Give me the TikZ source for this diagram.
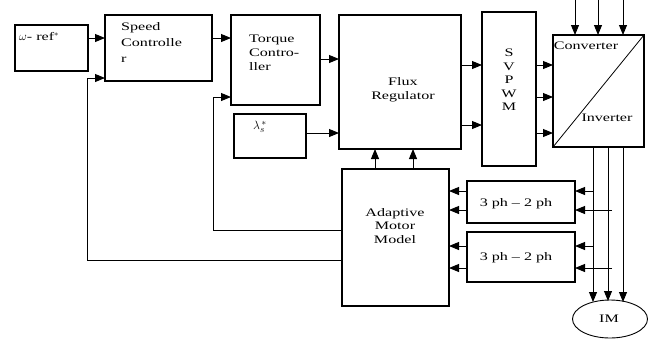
\documentclass[tikz,border=0pt]{standalone}
\usepackage{fontspec}
\setmainfont{Liberation Serif}[FakeStretch=1.4]
\usetikzlibrary{arrows.meta,shapes.geometric}
\begin{document}
\begin{tikzpicture}[x=1pt,y=-1pt,
  box/.style={draw,line width=1.4pt,inner sep=0pt,outer sep=0pt,anchor=north west},
  lbl/.style={inner sep=0pt,font=\fontsize{11.5}{14}\selectfont},
  arr/.style={line width=0.9pt,-{Triangle[length=10pt,width=8pt]}},
  ln/.style={line width=0.9pt}]
\useasboundingbox (0,0) rectangle (651,341);
% boxes
\node[box,minimum width=73pt,minimum height=46pt] (wref) at (15,25) {};
\node[box,minimum width=107pt,minimum height=66pt] (speed) at (105,15) {};
\node[box,minimum width=89pt,minimum height=90pt] (torque) at (231,15) {};
\node[box,minimum width=72pt,minimum height=44pt] (lam) at (234,114) {};
\node[box,minimum width=122pt,minimum height=134pt] (flux) at (339,15) {};
\node[box,minimum width=54pt,minimum height=154pt] (svpwm) at (482,12) {};
\node[box,minimum width=91pt,minimum height=112pt] (conv) at (553,35) {};
\node[box,minimum width=107pt,minimum height=137pt] (amm) at (342,169) {};
\node[box,minimum width=108pt,minimum height=42pt] (ptA) at (467,181) {};
\node[box,minimum width=108pt,minimum height=50pt] (ptB) at (467,232) {};
\node[draw,ellipse,line width=0.9pt,minimum width=75pt,minimum height=38pt,inner sep=0pt] (im) at (610,319) {};
\draw[line width=0.8pt] (conv.south west) -- (conv.north east);
% labels
\node[lbl,anchor=west] (twref) at (19,37) {$\omega$- ref$^*$};
\node[lbl,anchor=north west,align=left,font=\fontsize{11.5}{16}\selectfont] (tspeed) at (121,22) {Speed\\Controlle\\r};
\node[lbl,anchor=north west,align=left] (ttorque) at (249,35) {Torque\\Contro-\\ller};
\node[lbl,anchor=west,font=\fontsize{13}{14}\selectfont] (tlam) at (253,127) {$\lambda_{s}^{\,*}$};
\node[lbl,align=center] (tflux) at (403,90) {Flux\\Regulator};
\node[lbl,align=center,font=\fontsize{11.5}{13.5}\selectfont] (tsv) at (509,80) {S\\V\\P\\W\\M};
\node[lbl] (tconv) at (586,46) {Converter};
\node[lbl] (tinv) at (607,118) {Inverter};
\node[lbl,align=center,font=\fontsize{11.5}{13.5}\selectfont] (tamm) at (395,226) {Adaptive\\Motor\\Model};
\node[lbl] (tptA) at (516,204) {3 ph -- 2 ph};
\node[lbl] (tptB) at (516,258) {3 ph -- 2 ph};
\node[lbl] (tim) at (609,319) {IM};
% coordinates
\coordinate (fb1) at (87,260);
\coordinate (fb2) at (213,230);
\coordinate (in1) at (575,0);
\coordinate (in2) at (598,0);
\coordinate (in3) at (623,0);
\coordinate (m1) at (593,302);
\coordinate (m2) at (608,301);
\coordinate (m3) at (623,302);
% connectors
\draw[arr] (wref.east |- 0,38) -- (speed.west |- 0,38);
\draw[arr] (speed.east |- 0,38) -- (torque.west |- 0,38);
\draw[arr] (amm.west |- fb1) -- (fb1) -- (fb1 |- 0,78) -- (speed.west |- 0,78);
\draw[arr] (amm.west |- fb2) -- (fb2) -- (fb2 |- 0,97) -- (torque.west |- 0,97);
\draw[arr] (torque.east |- 0,59) -- (flux.west |- 0,59);
\draw[arr] (lam.east |- 0,133) -- (flux.west |- 0,133);
\draw[arr] (amm.north -| 375,0) -- (flux.south -| 375,0);
\draw[arr] (amm.north -| 413,0) -- (flux.south -| 413,0);
\draw[arr] (flux.east |- 0,65) -- (svpwm.west |- 0,65);
\draw[arr] (flux.east |- 0,125) -- (svpwm.west |- 0,125);
\draw[arr] (svpwm.east |- 0,65) -- (conv.west |- 0,65);
\draw[arr] (svpwm.east |- 0,97) -- (conv.west |- 0,97);
\draw[arr] (svpwm.east |- 0,133) -- (conv.west |- 0,133);
\draw[arr] (in1) -- (conv.north -| in1);
\draw[arr] (in2) -- (conv.north -| in2);
\draw[arr] (in3) -- (conv.north -| in3);
\draw[arr] (conv.south -| m1) -- (m1);
\draw[arr] (conv.south -| m2) -- (m2);
\draw[arr] (conv.south -| m3) -- (m3);
\draw[arr] (593,191) -- (ptA.east |- 0,191);
\draw[arr] (612,210) -- (ptA.east |- 0,210);
\draw[arr] (593,246) -- (ptB.east |- 0,246);
\draw[arr] (612,268) -- (ptB.east |- 0,268);
\draw[arr] (ptA.west |- 0,191) -- (amm.east |- 0,191);
\draw[arr] (ptA.west |- 0,210) -- (amm.east |- 0,210);
\draw[arr] (ptB.west |- 0,246) -- (amm.east |- 0,246);
\draw[arr] (ptB.west |- 0,268) -- (amm.east |- 0,268);
\end{tikzpicture}
\end{document}
